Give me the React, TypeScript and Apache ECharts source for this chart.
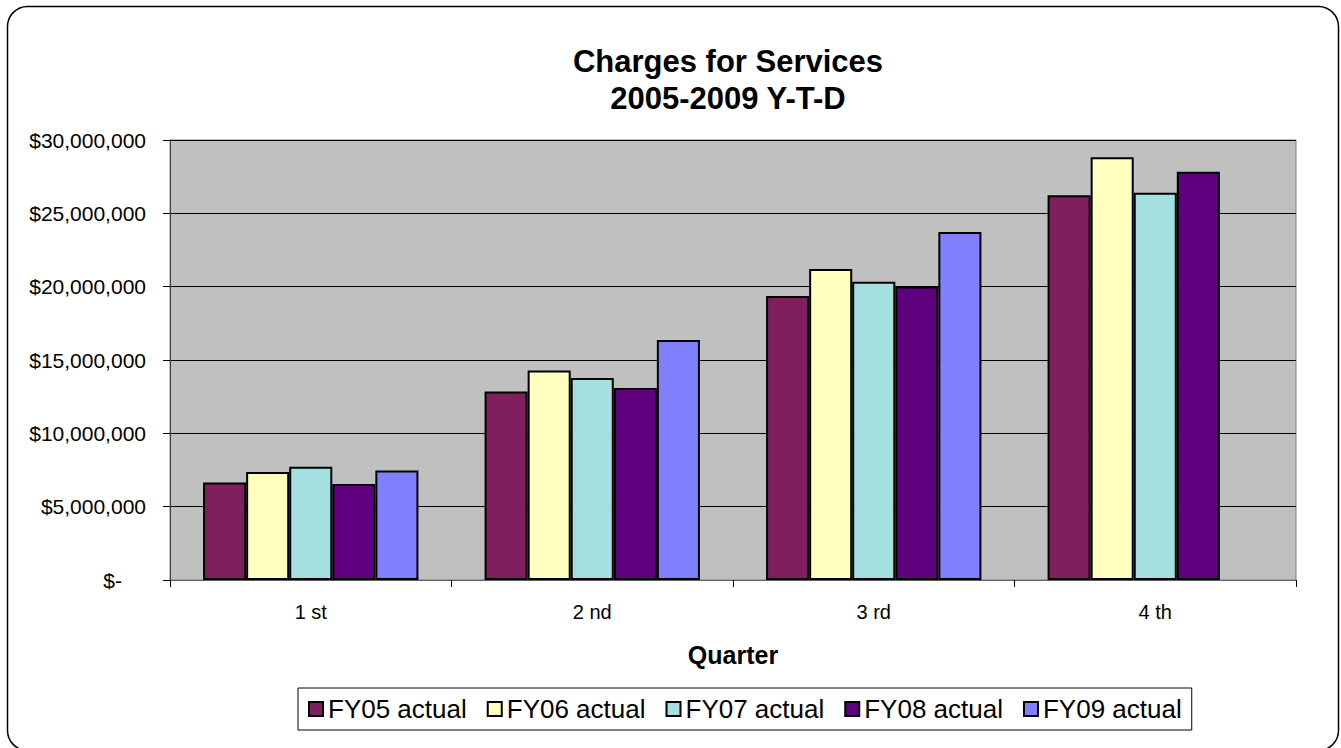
import React, { useEffect, useRef } from "react";
import * as echarts from "echarts";

const quarters = ["1 st", "2 nd", "3 rd", "4 th"];
const seriesNames = ["FY05 actual", "FY06 actual", "FY07 actual", "FY08 actual", "FY09 actual"];
const fy05 = [6650000, 12860000, 19360000, 26240000];
const fy06 = [7360000, 14290000, 21200000, 28830000];
const fy07 = [7720000, 13770000, 20330000, 26400000];
const fy08 = [6540000, 13090000, 20010000, 27830000];
const fy09 = [7470000, 16360000, 23720000, null];
const seriesColors = ["#7F1F5F", "#FFFFC0", "#A4E0E0", "#5F007F", "#8080FF"];

const FONT = "'Liberation Sans', Arial, sans-serif";

function fmtMoney(v: number): string {
  if (v === 0) return "{z|$-}";
  const s = String(Math.round(v));
  return "$" + s.replace(/\B(?=(\d{3})+(?!\d))/g, ",");
}

export default function App() {
  const ref = useRef<HTMLDivElement>(null);
  useEffect(() => {
    if (!ref.current) return;
    const chart = echarts.init(ref.current, null, { renderer: "svg" });
    const allData = [fy05, fy06, fy07, fy08, fy09];
    chart.setOption({
      animation: false,
      backgroundColor: "#ffffff",
      textStyle: { fontFamily: FONT },
      graphic: [
        {
          type: "rect",
          shape: { x: 7.5, y: 6.5, width: 1331, height: 744, r: 20 },
          style: { fill: "none", stroke: "#000", lineWidth: 1.5 },
          silent: true,
          z: 100,
        },
      ],
      title: {
        text: "Charges for Services\n2005-2009 Y-T-D",
        left: 723,
        top: 38,
        textAlign: "center",
        textStyle: {
          fontFamily: FONT,
          fontSize: 31,
          fontWeight: "bold",
          color: "#000",
          lineHeight: 37,
        },
      },
      grid: {
        left: 170,
        top: 140,
        width: 1126,
        height: 440,
        show: true,
        backgroundColor: "#C0C0C0",
        borderColor: "#808080",
        borderWidth: 1,
      },
      legend: {
        data: seriesNames.map((name) => ({
          name,
          itemStyle: { borderColor: "#000", borderWidth: 2 },
        })),
        left: 298,
        top: 688,
        itemWidth: 14,
        itemHeight: 14,
        itemGap: 20,
        icon: "rect",
        borderColor: "#000",
        borderWidth: 1,
        padding: [8, 10],
        itemStyle: { borderColor: "#000", borderWidth: 2 },
        textStyle: { fontFamily: FONT, fontSize: 26, color: "#000" },
      },
      xAxis: {
        type: "category",
        data: quarters,
        name: "Quarter",
        nameLocation: "middle",
        nameGap: 62,
        nameTextStyle: { fontFamily: FONT, fontSize: 25, fontWeight: "bold", color: "#000" },
        axisLine: { lineStyle: { color: "#606060", width: 1 } },
        axisTick: { show: true, length: 7, lineStyle: { color: "#000" } },
        axisLabel: { fontFamily: FONT, fontSize: 20, color: "#000", margin: 22 },
        splitLine: { show: false },
      },
      yAxis: {
        type: "value",
        min: 0,
        max: 30000000,
        interval: 5000000,
        axisLine: { show: true, lineStyle: { color: "#404040", width: 1 } },
        axisTick: { show: true, length: 7, lineStyle: { color: "#000" } },
        axisLabel: {
          fontFamily: FONT,
          fontSize: 21,
          color: "#000",
          margin: 24,
          formatter: (v: number) => fmtMoney(v),
          rich: {
            z: { fontFamily: FONT, fontSize: 21, color: "#000", padding: [0, 24, 0, 0] },
          },
        },
        splitLine: { show: true, lineStyle: { color: "#000", width: 1 } },
      },
      series: seriesNames.map((name, i) => ({
        name,
        type: "bar",
        data: allData[i],
        barGap: "0%",
        barCategoryGap: "23.5%",
        itemStyle: { color: seriesColors[i], borderColor: "#000", borderWidth: 2 },
      })),
    });
    return () => chart.dispose();
  }, []);
  return (
    <div
      ref={ref}
      style={{ position: "fixed", left: 0, top: 0, width: 1341, height: 748, background: "#fff" }}
    />
  );
}
